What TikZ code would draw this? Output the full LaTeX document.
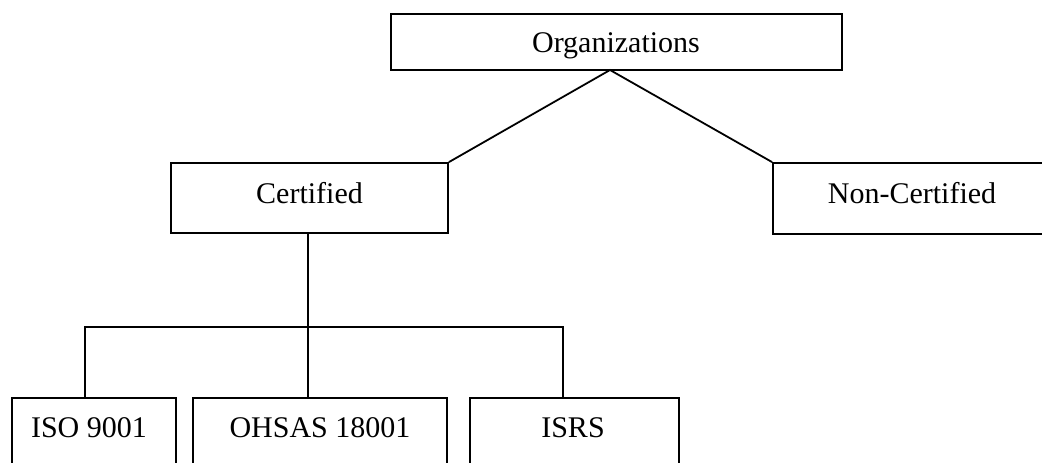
\documentclass[tikz,border=0pt]{standalone}
\usepackage{fontspec}
\setmainfont{Liberation Serif}
\begin{document}
\begin{tikzpicture}[x=1pt,y=-1pt,
  box/.style={draw, line width=1.8pt, inner sep=0pt, rectangle},
  lbl/.style={anchor=base, inner sep=0pt, font=\fontsize{30}{36}\selectfont},
  conn/.style={line width=1.8pt}]
\useasboundingbox (0,0) rectangle (1042,463);
\clip (0,0) rectangle (1042,463);
% boxes
\node[box, minimum width=451pt, minimum height=56pt] (org) at (616.5,42) {};
\node[box, minimum width=277pt, minimum height=70pt] (cert) at (309.5,198) {};
\node[box, minimum width=278pt, minimum height=71pt] (non) at (912,198.5) {};
\node[box, minimum width=164pt, minimum height=80pt] (iso) at (94,438) {};
\node[box, minimum width=254pt, minimum height=80pt] (ohsas) at (320,438) {};
\node[box, minimum width=209pt, minimum height=80pt] (isrs) at (574.5,438) {};
% labels
\node[lbl] (orgT) at (616,52) {Organizations};
\node[lbl] (certT) at (309.5,203) {Certified};
\node[lbl] (nonT) at (912,203) {Non-Certified};
\node[lbl] (isoT) at (89,437) {ISO 9001};
\node[lbl] (ohsasT) at (320,437) {OHSAS 18001};
\node[lbl] (isrsT) at (573,437) {ISRS};
% connectors
\coordinate (apex) at (610,70);
\coordinate (barL) at (85,327);
\coordinate (barM) at (308,327);
\coordinate (barR) at (563,327);
\draw[conn] (cert.north east) -- (apex) -- (non.north west);
\draw[conn] (barL |- iso.north) -- (barL) -- (barR) -- (barR |- isrs.north);
\draw[conn] (barM |- cert.south) -- (barM |- ohsas.north);
\end{tikzpicture}
\end{document}
